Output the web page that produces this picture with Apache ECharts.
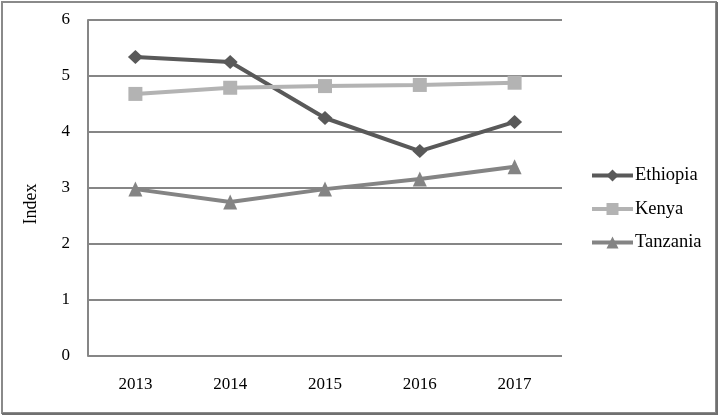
<!DOCTYPE html>
<html><head><meta charset="utf-8">
<script src="https://cdn.jsdelivr.net/npm/echarts@6/dist/echarts.min.js"></script>
<style>html,body{margin:0;padding:0;background:#fff}#c{width:720px;height:417px}</style>
</head><body><div id="c"></div>
<script>
var categories = ['2013','2014','2015','2016','2017'];
var ethiopia = [5.34, 5.25, 4.25, 3.66, 4.18];
var kenya = [4.68, 4.79, 4.82, 4.84, 4.88];
var tanzania = [2.98, 2.75, 2.98, 3.16, 3.38];
var yTicks = [0,1,2,3,4,5,6];
var yName = 'Index';

var font = '"Liberation Serif", "Times New Roman", serif';
var chart = echarts.init(document.getElementById('c'), null, {renderer:'canvas'});
function ser(name, data, color, symbol, size){
  return {name:name, type:'line', data:data, symbol:symbol, symbolSize:size,
    lineStyle:{color:color, width:4}, itemStyle:{color:color}, animation:false};
}
chart.setOption({
  backgroundColor:'#fff',
  textStyle:{fontFamily:font},
  graphic:[
    {type:'rect', shape:{x:2,y:2,width:714,height:411}, style:{fill:'none', stroke:'#8a8a8a', lineWidth:2}},
    {type:'line', shape:{x1:717,y1:2,x2:717,y2:414}, style:{stroke:'#707070', lineWidth:2}},
    {type:'line', shape:{x1:2,y1:414,x2:718,y2:414}, style:{stroke:'#707070', lineWidth:2}},
    {type:'text', x:31, y:204, rotation:Math.PI/2,
      style:{text:yName, font:'18px ' + font, fill:'#000', textAlign:'center', textVerticalAlign:'middle'}}
  ],
  grid:{left:88, right:158, top:20, bottom:61},
  legend:{orient:'vertical', left:585, top:161, itemWidth:41, itemHeight:15, itemGap:14.5,
    textStyle:{fontFamily:font, fontSize:18.5, color:'#000', padding:[0,0,0,-3]},
    lineStyle:{width:4},
    data:['Ethiopia','Kenya','Tanzania']},
  xAxis:{type:'category', data:categories, boundaryGap:true,
    axisLine:{show:false}, axisTick:{show:false},
    axisLabel:{fontFamily:font, fontSize:17, color:'#000', margin:20}},
  yAxis:{type:'value', min:yTicks[0], max:yTicks[yTicks.length-1], interval:1,
    axisLine:{show:true, lineStyle:{color:'#868686', width:2}}, axisTick:{show:false},
    splitLine:{lineStyle:{color:'#868686', width:2}},
    axisLabel:{fontFamily:font, fontSize:17, color:'#000', margin:18}},
  series:[
    ser('Ethiopia', ethiopia, '#595959', 'diamond', [15,14]),
    ser('Kenya', kenya, '#b3b3b3', 'rect', 14),
    ser('Tanzania', tanzania, '#848484', 'triangle', [14,15])
  ]
});
</script></body></html>
